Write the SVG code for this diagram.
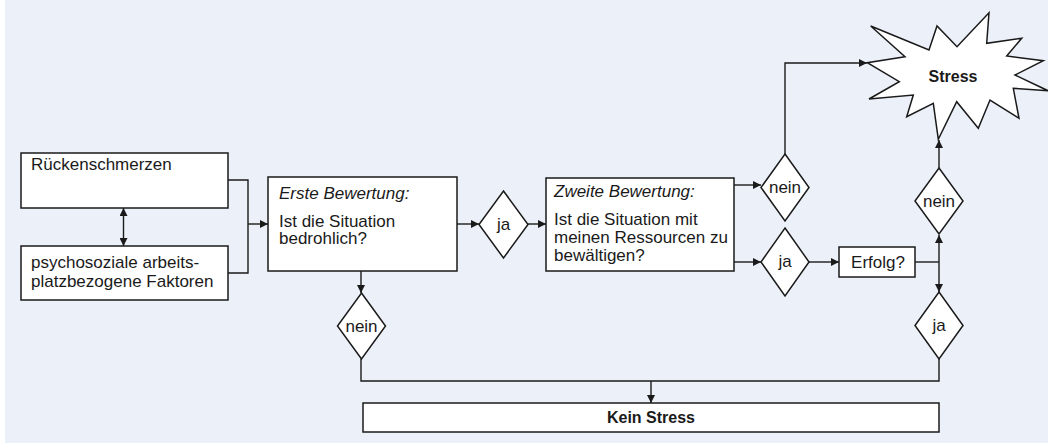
<svg xmlns="http://www.w3.org/2000/svg" width="1048" height="444" viewBox="0 0 1048 444">
<defs>
<style>
.bg{fill:#ECF0F9}
.box{fill:#fff;stroke:#1a1a1a;stroke-width:1.5}
.ln{fill:none;stroke:#1a1a1a;stroke-width:1.4}
.t{font-family:"Liberation Sans",Arial,sans-serif;font-size:17px;fill:#1a1a1a}
.i{font-style:italic}
.b{font-weight:bold;font-size:16px}
.c{text-anchor:middle}
</style>
<marker id="ah" viewBox="0 0 10 10" refX="10" refY="5" markerWidth="8" markerHeight="8" markerUnits="userSpaceOnUse" orient="auto-start-reverse">
<path d="M0,0 L10,5 L0,10 Z" fill="#1a1a1a"/>
</marker>
</defs>
<rect class="bg" x="5" y="0" width="1043" height="443"/>

<g id="connectors">
<polyline class="ln" points="228,180 248,180 248,273 228,273"/>
<line class="ln" x1="248" y1="224" x2="268" y2="224" marker-end="url(#ah)"/>
<line class="ln" x1="123.5" y1="208" x2="123.5" y2="246" marker-start="url(#ah)" marker-end="url(#ah)"/>
<line class="ln" x1="457" y1="224" x2="479" y2="224" marker-end="url(#ah)"/>
<line class="ln" x1="528" y1="224" x2="546" y2="224" marker-end="url(#ah)"/>
<line class="ln" x1="734" y1="185" x2="761" y2="185" marker-end="url(#ah)"/>
<polyline class="ln" points="785,154 785,63 867,63" marker-end="url(#ah)"/>
<line class="ln" x1="734" y1="262" x2="761" y2="262" marker-end="url(#ah)"/>
<line class="ln" x1="809" y1="262" x2="839" y2="262" marker-end="url(#ah)"/>
<line class="ln" x1="915" y1="262" x2="939" y2="262"/>
<line class="ln" x1="939" y1="262" x2="939" y2="235" marker-end="url(#ah)"/>
<line class="ln" x1="939" y1="262" x2="939" y2="292" marker-end="url(#ah)"/>
<line class="ln" x1="939" y1="168" x2="939" y2="140" marker-end="url(#ah)"/>
<line class="ln" x1="361" y1="271" x2="361" y2="293" marker-end="url(#ah)"/>
<polyline class="ln" points="361,359 361,381 939,381 939,359"/>
<line class="ln" x1="651" y1="381" x2="651" y2="403" marker-end="url(#ah)"/>
</g>

<g id="rueckenschmerzen">
<rect class="box" x="21" y="153" width="207" height="55"/>
<text class="t" x="31" y="170">Rückenschmerzen</text>
</g>
<g id="psychosozial">
<rect class="box" x="21" y="246" width="207" height="54"/>
<text class="t" x="31" y="268">psychosoziale arbeits-</text>
<text class="t" x="31" y="287">platzbezogene Faktoren</text>
</g>
<g id="erste-bewertung">
<rect class="box" x="268" y="177" width="189" height="94"/>
<text class="t i" x="279" y="199">Erste Bewertung:</text>
<text class="t" x="279" y="227">Ist die Situation</text>
<text class="t" x="279" y="244">bedrohlich?</text>
</g>
<g id="ja1">
<polygon class="box" points="503.5,191 528,224.5 503.5,258 479,224.5"/>
<text class="t c" x="503.5" y="230">ja</text>
</g>
<g id="zweite-bewertung">
<rect class="box" x="546" y="178" width="188" height="93"/>
<text class="t i" x="554" y="197">Zweite Bewertung:</text>
<text class="t" x="554" y="225">Ist die Situation mit</text>
<text class="t" x="554" y="243">meinen Ressourcen zu</text>
<text class="t" x="554" y="261">bewältigen?</text>
</g>
<g id="nein-oben">
<polygon class="box" points="785,154 809,187.5 785,221 761,187.5"/>
<text class="t c" x="785" y="193">nein</text>
</g>
<g id="ja2">
<polygon class="box" points="785,228 809,262 785,296 761,262"/>
<text class="t c" x="785" y="267">ja</text>
</g>
<g id="erfolg">
<rect class="box" x="839" y="247" width="76" height="30"/>
<text class="t c" x="878" y="268">Erfolg?</text>
</g>
<g id="nein-rechts">
<polygon class="box" points="939,168 963,201 939,234 915,201"/>
<text class="t c" x="939" y="206.5">nein</text>
</g>
<g id="ja3">
<polygon class="box" points="939,292 963,325.5 939,359 915,325.5"/>
<text class="t c" x="939" y="331">ja</text>
</g>
<g id="nein-links">
<polygon class="box" points="361.5,293 385.5,326 361.5,359 337.5,326"/>
<text class="t c" x="361.5" y="331.5">nein</text>
</g>
<g id="stress">
<polygon class="box" points="870.7,26 929,50 937,26 957,46.7 989,12.7 986.7,43.3 1021.7,38.3 1006.7,56 1043.3,60.7 1015,75 1048,90.7 1013.3,88.3 1019,118.3 990,100 978.3,128.3 956.7,101.7 938.3,139.3 933.3,103.3 906.7,116.7 913.3,95 869,99 899.3,81.7 867.3,62.7 905,56.7"/>
<text class="t b c" x="953" y="82">Stress</text>
</g>
<g id="kein-stress">
<rect class="box" x="363" y="403" width="576" height="29"/>
<text class="t b c" x="651" y="423">Kein Stress</text>
</g>
</svg>
